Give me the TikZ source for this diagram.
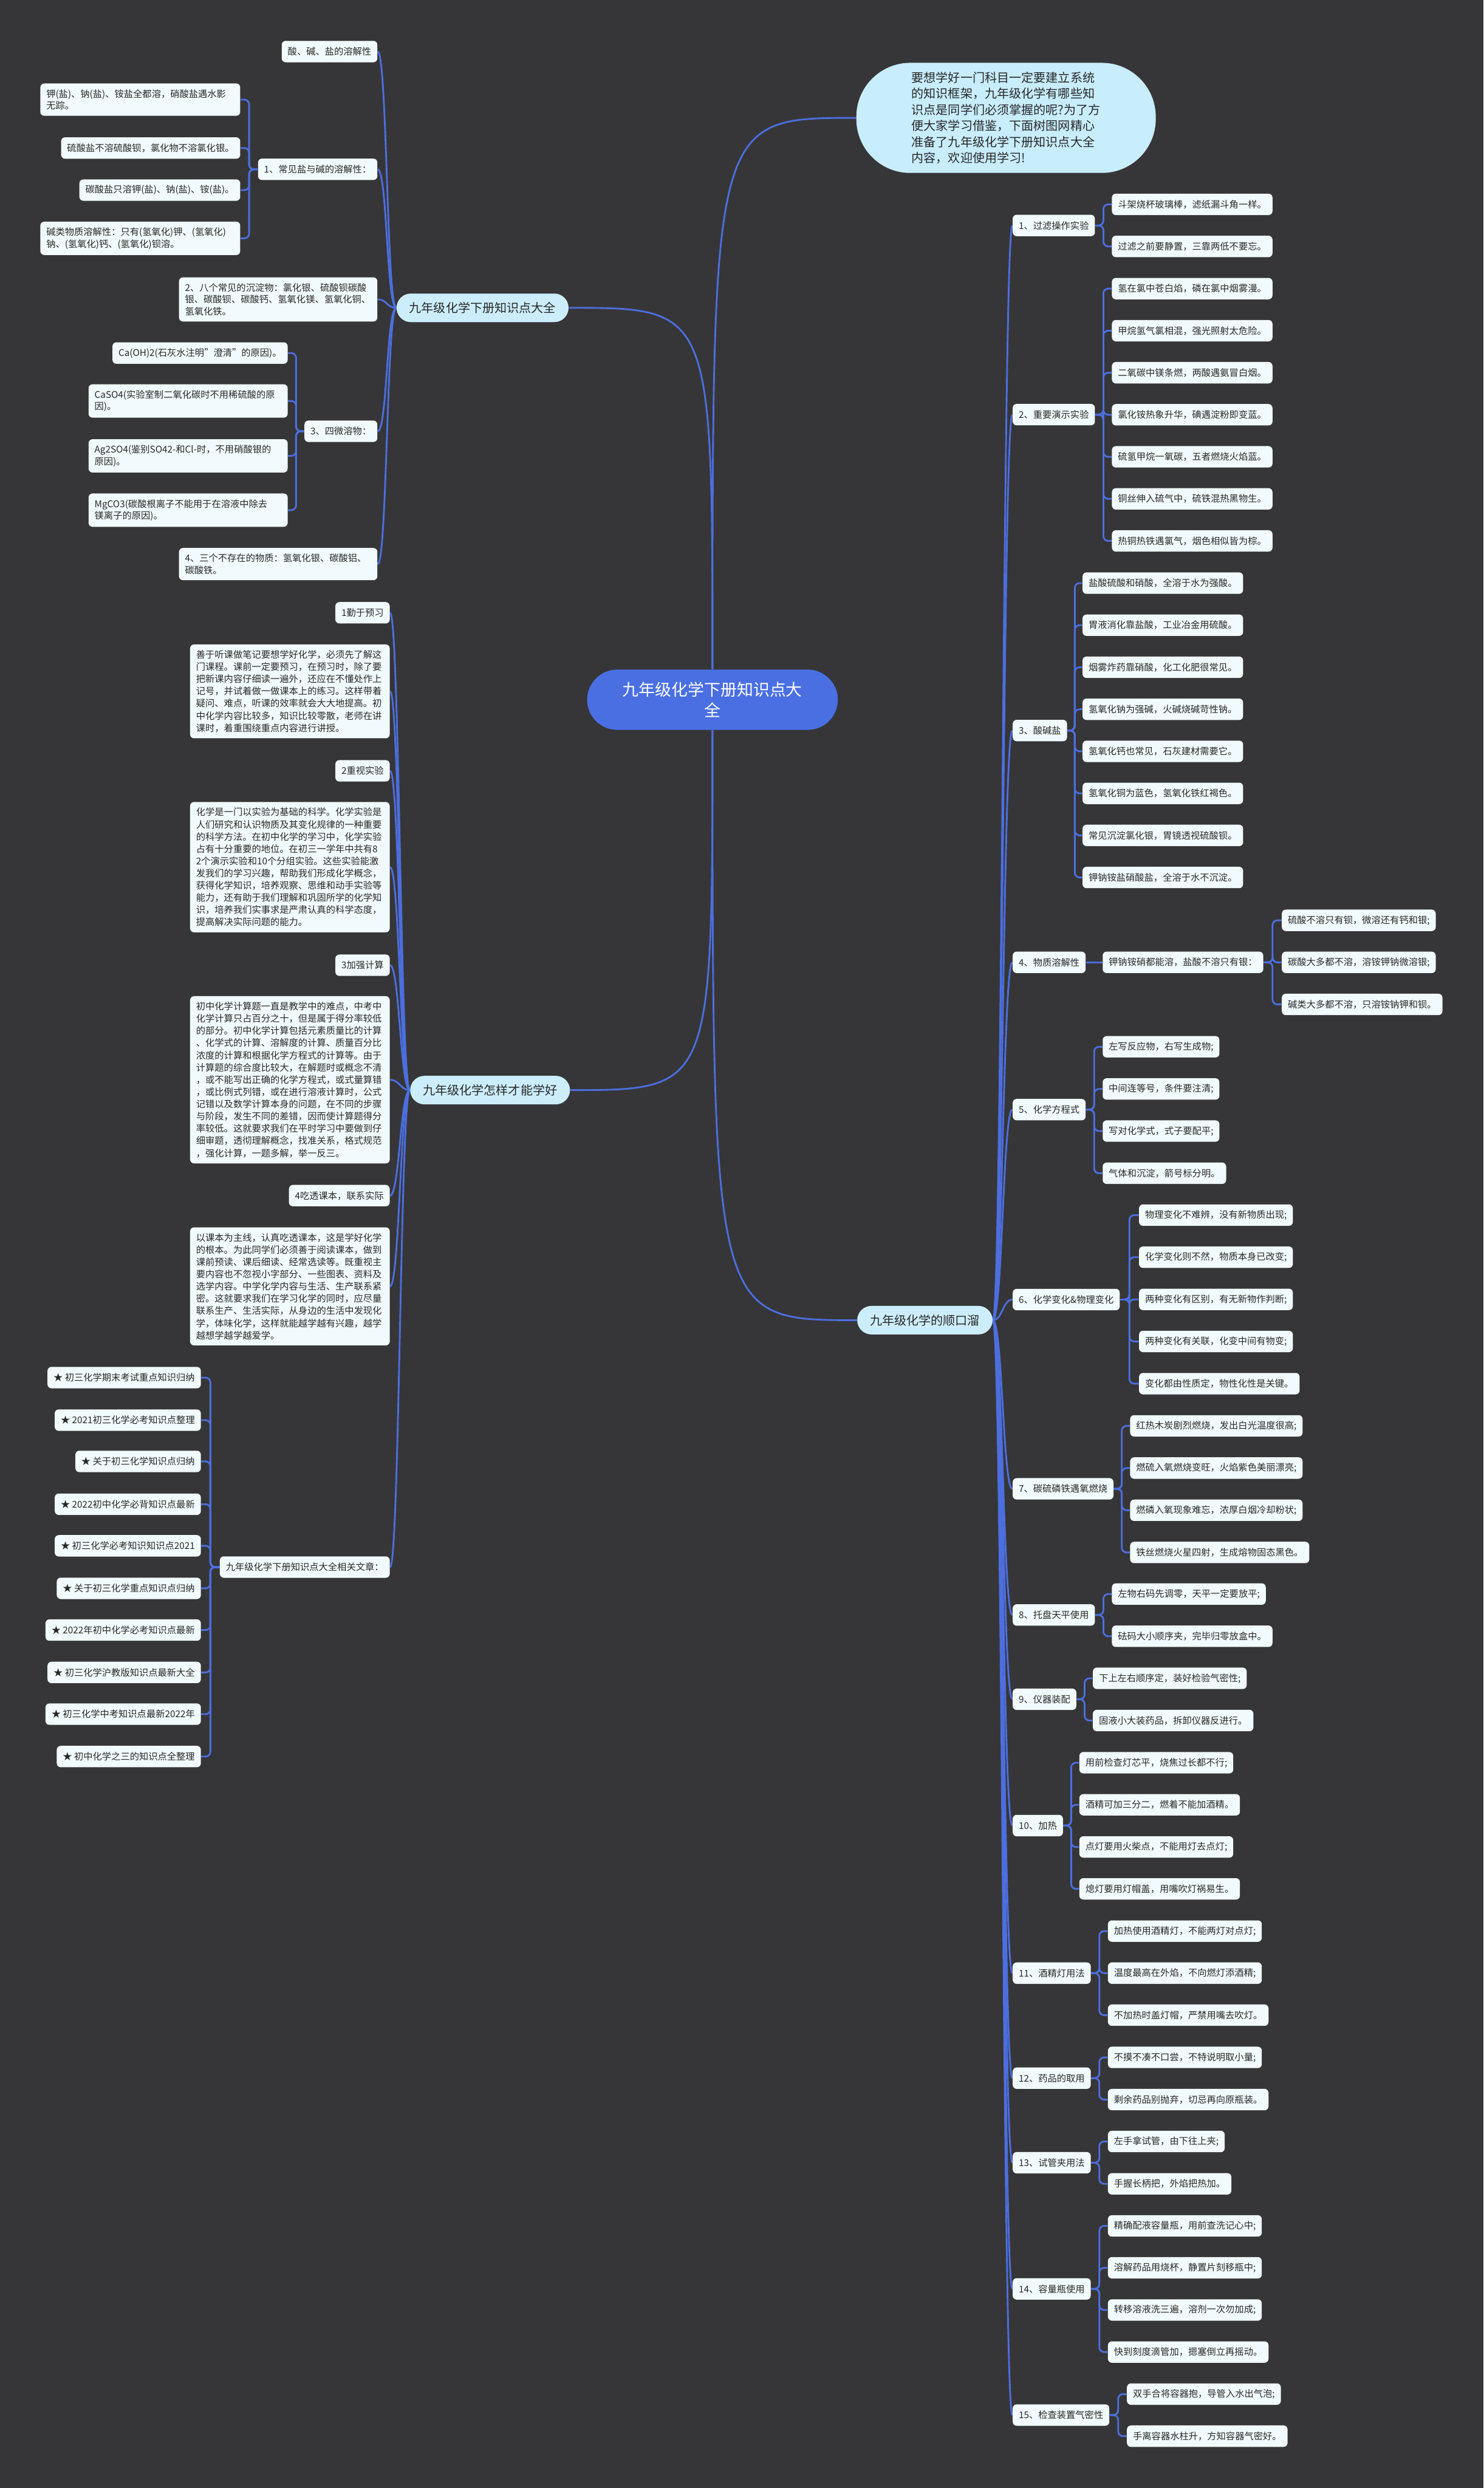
\documentclass[tikz,border=0pt]{standalone}
\usepackage{fontspec}
\setmainfont{Noto Sans CJK SC}
\usetikzlibrary{calc}
\definecolor{bgc}{RGB}{54,54,56}
\definecolor{leaffill}{RGB}{241,250,252}
\definecolor{branchfill}{RGB}{204,238,252}
\definecolor{introfill}{RGB}{200,237,253}
\definecolor{rootfill}{RGB}{74,111,227}
\definecolor{linec}{RGB}{76,110,222}
\definecolor{textc}{RGB}{40,40,40}
\newcommand{\lfnt}{\fontsize{5.85}{7.5}\selectfont}
\newcommand{\pfnt}{\fontsize{5.85}{7.7}\selectfont}
\newcommand{\brfnt}{\fontsize{7.7}{9}\selectfont}
\newcommand{\rtfnt}{\fontsize{10.3}{13.1}\selectfont}
\newcommand{\introfnt}{\fontsize{7.7}{10.1}\selectfont}
\newcommand{\ElbR}[2]{\draw[link,rounded corners=3pt] (#1.east) -- ($(#1.east)!0.5!(#1.east-|#2.west)$) |- (#2.west);}
\newcommand{\ElbL}[2]{\draw[link,rounded corners=3pt] (#1.west) -- ($(#1.west)!0.5!(#1.west-|#2.east)$) |- (#2.east);}
\newcommand{\CurR}[2]{\draw[link] (#1.east) .. controls +(6,0) and +(-6,0) .. (#2.west);}
\newcommand{\CurL}[2]{\draw[link] (#1.west) .. controls +(-6,0) and +(6,0) .. (#2.east);}
\pgfdeclarelayer{bglayer}
\pgfsetlayers{bglayer,main}
\begin{document}
\begin{tikzpicture}[x=1pt,y=-1pt,
  leaf/.style={fill=leaffill, rounded corners=2.5pt, inner xsep=3.8pt, inner ysep=3.7pt, minimum height=13.5pt, font=\lfnt, text=textc, align=left},
  para/.style={leaf, font=\pfnt, text width=118.2pt},
  wide/.style={text width=#1},
  branch/.style={fill=branchfill, rounded corners=9pt, inner xsep=8pt, inner ysep=0pt, minimum height=18pt, font=\brfnt, text=textc},
  rootn/.style={fill=rootfill, rounded corners=19pt, minimum width=158pt, minimum height=38pt, font=\rtfnt, text=white, align=center, inner sep=0pt},
  intron/.style={fill=introfill, rounded corners=34pt, minimum width=188.7pt, minimum height=69.4pt, font=\introfnt, text=textc, align=left, inner sep=0pt},
  link/.style={draw=linec, line width=1.1pt}]
\useasboundingbox (0,0) rectangle (935,1568);

% ---------- root and intro ----------
\node[rootn] (root) at (449,441) {九年级化学下册知识点大\\全};
\node[intron] (intro) at (634,74.3) {要想学好一门科目一定要建立系统\\的知识框架，九年级化学有哪些知\\识点是同学们必须掌握的呢?为了方\\便大家学习借鉴，下面树图网精心\\准备了九年级化学下册知识点大全\\内容，欢迎使用学习!};

% ---------- branches ----------
\node[branch,anchor=east] (b1) at (358.5,194) {九年级化学下册知识点大全};
\node[branch,anchor=east] (b2) at (359.4,687) {九年级化学怎样才能学好};
\node[branch,anchor=west] (b3) at (540,832) {九年级化学的顺口溜};

% ---------- b1 children ----------
\node[leaf,anchor=east] (a1) at (238,32.5) {酸、碱、盐的溶解性};
\node[leaf,anchor=east] (a2) at (238,106.7) {1、常见盐与碱的溶解性：};
\node[leaf,anchor=east,wide=117.4pt] (a3) at (238,188.7) {2、八个常见的沉淀物：氯化银、硫酸钡碳酸\\银、碳酸钡、碳酸钙、氢氧化镁、氢氧化铜、\\氢氧化铁。};
\node[leaf,anchor=east] (a4) at (238,271.8) {3、四微溶物：};
\node[leaf,anchor=east,wide=117.4pt] (a5) at (238,355.5) {4、三个不存在的物质：氢氧化银、碳酸铝、\\碳酸铁。};

\node[leaf,anchor=east,wide=118.4pt] (a2a) at (151.6,62.8) {钾(盐)、钠(盐)、铵盐全都溶，硝酸盐遇水影\\无踪。};
\node[leaf,anchor=east] (a2b) at (151.6,93.3) {硫酸盐不溶硫酸钡，氯化物不溶氯化银。};
\node[leaf,anchor=east] (a2c) at (151.6,119.8) {碳酸盐只溶钾(盐)、钠(盐)、铵(盐)。};
\node[leaf,anchor=east,wide=118.4pt] (a2d) at (151.6,150.2) {碱类物质溶解性：只有(氢氧化)钾、(氢氧化)\\钠、(氢氧化)钙、(氢氧化)钡溶。};

\node[leaf,anchor=east] (a4a) at (181.5,222.5) {Ca(OH)2(石灰水注明"澄清"的原因)。};
\node[leaf,anchor=east,wide=117.9pt] (a4b) at (181.5,252.7) {CaSO4(实验室制二氧化碳时不用稀硫酸的原\\因)。};
\node[leaf,anchor=east,wide=117.9pt] (a4c) at (181.5,287.3) {Ag2SO4(鉴别SO42-和Cl-时，不用硝酸银的\\原因)。};
\node[leaf,anchor=east,wide=117.9pt] (a4d) at (181.5,321.5) {MgCO3(碳酸根离子不能用于在溶液中除去\\镁离子的原因)。};

% ---------- b2 children ----------
\node[leaf,anchor=east] (c1) at (245.8,386.2) {1勤于预习};
\node[para,anchor=east] (c2) at (245.8,435.7) {善于听课做笔记要想学好化学，必须先了解这\\门课程。课前一定要预习，在预习时，除了要\\把新课内容仔细读一遍外，还应在不懂处作上\\记号，并试着做一做课本上的练习。这样带着\\疑问、难点，听课的效率就会大大地提高。初\\中化学内容比较多，知识比较零散，老师在讲\\课时，着重围绕重点内容进行讲授。};
\node[leaf,anchor=east] (c3) at (245.8,485.8) {2重视实验};
\node[para,anchor=east] (c4) at (245.8,546.5) {化学是一门以实验为基础的科学。化学实验是\\人们研究和认识物质及其变化规律的一种重要\\的科学方法。在初中化学的学习中，化学实验\\占有十分重要的地位。在初三一学年中共有8\\2个演示实验和10个分组实验。这些实验能激\\发我们的学习兴趣，帮助我们形成化学概念，\\获得化学知识，培养观察、思维和动手实验等\\能力，还有助于我们理解和巩固所学的化学知\\识，培养我们实事求是严肃认真的科学态度，\\提高解决实际问题的能力。};
\node[leaf,anchor=east] (c5) at (245.8,608.3) {3加强计算};
\node[para,anchor=east] (c6) at (245.8,680.5) {初中化学计算题一直是教学中的难点，中考中\\化学计算只占百分之十，但是属于得分率较低\\的部分。初中化学计算包括元素质量比的计算\\、化学式的计算、溶解度的计算、质量百分比\\浓度的计算和根据化学方程式的计算等。由于\\计算题的综合度比较大，在解题时或概念不清\\，或不能写出正确的化学方程式，或式量算错\\，或比例式列错，或在进行溶液计算时，公式\\记错以及数学计算本身的问题，在不同的步骤\\与阶段，发生不同的差错，因而使计算题得分\\率较低。这就要求我们在平时学习中要做到仔\\细审题，透彻理解概念，找准关系，格式规范\\，强化计算，一题多解，举一反三。};
\node[leaf,anchor=east] (c7) at (245.8,753.5) {4吃透课本，联系实际};
\node[para,anchor=east] (c8) at (245.8,810.7) {以课本为主线，认真吃透课本，这是学好化学\\的根本。为此同学们必须善于阅读课本，做到\\课前预读、课后细读、经常选读等。既重视主\\要内容也不忽视小字部分、一些图表、资料及\\选学内容。中学化学内容与生活、生产联系紧\\密。这就要求我们在学习化学的同时，应尽量\\联系生产、生活实际，从身边的生活中发现化\\学，体味化学，这样就能越学越有兴趣，越学\\越想学越学越爱学。};
\node[leaf,anchor=east] (c9) at (245.8,987.6) {九年级化学下册知识点大全相关文章：};

\node[leaf,anchor=east] (d1) at (126.8,868.2) {★ 初三化学期末考试重点知识归纳};
\node[leaf,anchor=east] (d2) at (126.8,895) {★ 2021初三化学必考知识点整理};
\node[leaf,anchor=east] (d3) at (126.8,921) {★ 关于初三化学知识点归纳};
\node[leaf,anchor=east] (d4) at (126.8,948) {★ 2022初中化学必背知识点最新};
\node[leaf,anchor=east] (d5) at (126.8,974.2) {★ 初三化学必考知识知识点2021};
\node[leaf,anchor=east] (d6) at (126.8,1001) {★ 关于初三化学重点知识点归纳};
\node[leaf,anchor=east] (d7) at (126.8,1027.3) {★ 2022年初中化学必考知识点最新};
\node[leaf,anchor=east] (d8) at (126.8,1054) {★ 初三化学沪教版知识点最新大全};
\node[leaf,anchor=east] (d9) at (126.8,1080.3) {★ 初三化学中考知识点最新2022年};
\node[leaf,anchor=east] (d10) at (126.8,1107) {★ 初中化学之三的知识点全整理};

% ---------- b3 children ----------
\node[leaf,anchor=west] (r1) at (638,142.1) {1、过滤操作实验};
\node[leaf,anchor=west] (r2) at (638,261.3) {2、重要演示实验};
\node[leaf,anchor=west] (r3) at (638,460.4) {3、酸碱盐};
\node[leaf,anchor=west] (r4) at (638,606.5) {4、物质溶解性};
\node[leaf,anchor=west] (r5) at (638,699.3) {5、化学方程式};
\node[leaf,anchor=west] (r6) at (638,819) {6、化学变化\&物理变化};
\node[leaf,anchor=west] (r7) at (638,938.3) {7、碳硫磷铁遇氧燃烧};
\node[leaf,anchor=west] (r8) at (638,1017.8) {8、托盘天平使用};
\node[leaf,anchor=west] (r9) at (638,1070.9) {9、仪器装配};
\node[leaf,anchor=west] (r10) at (638,1150.5) {10、加热};
\node[leaf,anchor=west] (r11) at (638,1243.5) {11、酒精灯用法};
\node[leaf,anchor=west] (r12) at (638,1309.7) {12、药品的取用};
\node[leaf,anchor=west] (r13) at (638,1363) {13、试管夹用法};
\node[leaf,anchor=west] (r14) at (638,1442.5) {14、容量瓶使用};
\node[leaf,anchor=west] (r15) at (638,1522) {15、检查装置气密性};

\node[leaf,anchor=west] (r1a) at (700.5,128.8) {斗架烧杯玻璃棒，滤纸漏斗角一样。};
\node[leaf,anchor=west] (r1b) at (700.5,155.3) {过滤之前要静置，三靠两低不要忘。};

\node[leaf,anchor=west] (r2a) at (700.5,181.9) {氢在氯中苍白焰，磷在氯中烟雾漫。};
\node[leaf,anchor=west] (r2b) at (700.5,208.4) {甲烷氢气氯相混，强光照射太危险。};
\node[leaf,anchor=west] (r2c) at (700.5,234.9) {二氧碳中镁条燃，两酸遇氨冒白烟。};
\node[leaf,anchor=west] (r2d) at (700.5,261.4) {氯化铵热象升华，碘遇淀粉即变蓝。};
\node[leaf,anchor=west] (r2e) at (700.5,287.9) {硫氢甲烷一氧碳，五者燃烧火焰蓝。};
\node[leaf,anchor=west] (r2f) at (700.5,314.4) {铜丝伸入硫气中，硫铁混热黑物生。};
\node[leaf,anchor=west] (r2g) at (700.5,340.9) {热铜热铁遇氯气，烟色相似皆为棕。};

\node[leaf,anchor=west] (r3a) at (682,367.5) {盐酸硫酸和硝酸，全溶于水为强酸。};
\node[leaf,anchor=west] (r3b) at (682,394) {胃液消化靠盐酸，工业冶金用硫酸。};
\node[leaf,anchor=west] (r3c) at (682,420.5) {烟雾炸药靠硝酸，化工化肥很常见。};
\node[leaf,anchor=west] (r3d) at (682,447) {氢氧化钠为强碱，火碱烧碱苛性钠。};
\node[leaf,anchor=west] (r3e) at (682,473.5) {氢氧化钙也常见，石灰建材需要它。};
\node[leaf,anchor=west] (r3f) at (682,500) {氢氧化铜为蓝色，氢氧化铁红褐色。};
\node[leaf,anchor=west] (r3g) at (682,526.5) {常见沉淀氯化银，胃镜透视硫酸钡。};
\node[leaf,anchor=west] (r3h) at (682,553) {钾钠铵盐硝酸盐，全溶于水不沉淀。};

\node[leaf,anchor=west] (r4a) at (694.7,606.5) {钾钠铵硝都能溶，盐酸不溶只有银：};
\node[leaf,anchor=west] (r4b) at (807.6,580) {硫酸不溶只有钡，微溶还有钙和银;};
\node[leaf,anchor=west] (r4c) at (807.6,606.5) {碳酸大多都不溶，溶铵钾钠微溶银;};
\node[leaf,anchor=west] (r4d) at (807.6,633) {碱类大多都不溶，只溶铵钠钾和钡。};

\node[leaf,anchor=west] (r5a) at (694.7,659.7) {左写反应物，右写生成物;};
\node[leaf,anchor=west] (r5b) at (694.7,686.3) {中间连等号，条件要注清;};
\node[leaf,anchor=west] (r5c) at (694.7,712.8) {写对化学式，式子要配平;};
\node[leaf,anchor=west] (r5d) at (694.7,739.4) {气体和沉淀，箭号标分明。};

\node[leaf,anchor=west] (r6a) at (717.6,765.8) {物理变化不难辨，没有新物质出现;};
\node[leaf,anchor=west] (r6b) at (717.6,792.3) {化学变化则不然，物质本身已改变;};
\node[leaf,anchor=west] (r6c) at (717.6,818.9) {两种变化有区别，有无新物作判断;};
\node[leaf,anchor=west] (r6d) at (717.6,845.4) {两种变化有关联，化变中间有物变;};
\node[leaf,anchor=west] (r6e) at (717.6,872) {变化都由性质定，物性化性是关键。};

\node[leaf,anchor=west] (r7a) at (712,898.6) {红热木炭剧烈燃烧，发出白光温度很高;};
\node[leaf,anchor=west] (r7b) at (712,925.2) {燃硫入氧燃烧变旺，火焰紫色美丽漂亮;};
\node[leaf,anchor=west] (r7c) at (712,951.8) {燃磷入氧现象难忘，浓厚白烟冷却粉状;};
\node[leaf,anchor=west] (r7d) at (712,978.4) {铁丝燃烧火星四射，生成熔物固态黑色。};

\node[leaf,anchor=west] (r8a) at (700.5,1004.6) {左物右码先调零，天平一定要放平;};
\node[leaf,anchor=west] (r8b) at (700.5,1031.2) {砝码大小顺序夹，完毕归零放盒中。};

\node[leaf,anchor=west] (r9a) at (688.5,1057.7) {下上左右顺序定，装好检验气密性;};
\node[leaf,anchor=west] (r9b) at (688.5,1084.3) {固液小大装药品，拆卸仪器反进行。};

\node[leaf,anchor=west] (r10a) at (680,1110.9) {用前检查灯芯平，烧焦过长都不行;};
\node[leaf,anchor=west] (r10b) at (680,1137.4) {酒精可加三分二，燃着不能加酒精。};
\node[leaf,anchor=west] (r10c) at (680,1164) {点灯要用火柴点，不能用灯去点灯;};
\node[leaf,anchor=west] (r10d) at (680,1190.4) {熄灯要用灯帽盖，用嘴吹灯祸易生。};

\node[leaf,anchor=west] (r11a) at (698,1217) {加热使用酒精灯，不能两灯对点灯;};
\node[leaf,anchor=west] (r11b) at (698,1243.5) {温度最高在外焰，不向燃灯添酒精;};
\node[leaf,anchor=west] (r11c) at (698,1270) {不加热时盖灯帽，严禁用嘴去吹灯。};

\node[leaf,anchor=west] (r12a) at (698,1296.6) {不摸不凑不口尝，不特说明取小量;};
\node[leaf,anchor=west] (r12b) at (698,1323.2) {剩余药品别抛弃，切忌再向原瓶装。};

\node[leaf,anchor=west] (r13a) at (698,1349.6) {左手拿试管，由下往上夹;};
\node[leaf,anchor=west] (r13b) at (698,1376.3) {手握长柄把，外焰把热加。};

\node[leaf,anchor=west] (r14a) at (698,1402.8) {精确配液容量瓶，用前查洗记心中;};
\node[leaf,anchor=west] (r14b) at (698,1429.2) {溶解药品用烧杯，静置片刻移瓶中;};
\node[leaf,anchor=west] (r14c) at (698,1455.8) {转移溶液洗三遍，溶剂一次勿加成;};
\node[leaf,anchor=west] (r14d) at (698,1482.3) {快到刻度滴管加，摁塞倒立再摇动。};

\node[leaf,anchor=west] (r15a) at (710,1508.8) {双手合将容器抱，导管入水出气泡;};
\node[leaf,anchor=west] (r15b) at (710,1535.3) {手离容器水柱升，方知容器气密好。};

% ---------- connectors ----------
\begin{pgfonlayer}{bglayer}
\fill[bgc] (0,0) rectangle (935,1568);
\draw[link] (root.north) .. controls (449,74.3) .. (intro.west);
\draw[link] (root.north) .. controls (449,194) .. (b1.east);
\draw[link] (root.south) .. controls (449,687) .. (b2.east);
\draw[link] (root.south) .. controls (449,832) .. (b3.west);
\foreach \c in {a1,a2,a3,a4,a5} {\CurL{b1}{\c}}
\foreach \c in {a2a,a2b,a2c,a2d} {\ElbL{a2}{\c}}
\foreach \c in {a4a,a4b,a4c,a4d} {\ElbL{a4}{\c}}
\foreach \c in {c1,c2,c3,c4,c5,c6,c7,c8,c9} {\CurL{b2}{\c}}
\foreach \c in {d1,d2,d3,d4,d5,d6,d7,d8,d9,d10} {\ElbL{c9}{\c}}
\foreach \c in {r1,r2,r3,r4,r5,r6,r7,r8,r9,r10,r11,r12,r13,r14,r15} {\CurR{b3}{\c}}
\foreach \c in {r1a,r1b} {\ElbR{r1}{\c}}
\foreach \c in {r2a,r2b,r2c,r2d,r2e,r2f,r2g} {\ElbR{r2}{\c}}
\foreach \c in {r3a,r3b,r3c,r3d,r3e,r3f,r3g,r3h} {\ElbR{r3}{\c}}
\draw[link] (r4.east) -- (r4a.west);
\foreach \c in {r4b,r4c,r4d} {\ElbR{r4a}{\c}}
\foreach \c in {r5a,r5b,r5c,r5d} {\ElbR{r5}{\c}}
\foreach \c in {r6a,r6b,r6c,r6d,r6e} {\ElbR{r6}{\c}}
\foreach \c in {r7a,r7b,r7c,r7d} {\ElbR{r7}{\c}}
\foreach \c in {r8a,r8b} {\ElbR{r8}{\c}}
\foreach \c in {r9a,r9b} {\ElbR{r9}{\c}}
\foreach \c in {r10a,r10b,r10c,r10d} {\ElbR{r10}{\c}}
\foreach \c in {r11a,r11b,r11c} {\ElbR{r11}{\c}}
\foreach \c in {r12a,r12b} {\ElbR{r12}{\c}}
\foreach \c in {r13a,r13b} {\ElbR{r13}{\c}}
\foreach \c in {r14a,r14b,r14c,r14d} {\ElbR{r14}{\c}}
\foreach \c in {r15a,r15b} {\ElbR{r15}{\c}}
\end{pgfonlayer}
\end{tikzpicture}
\end{document}
